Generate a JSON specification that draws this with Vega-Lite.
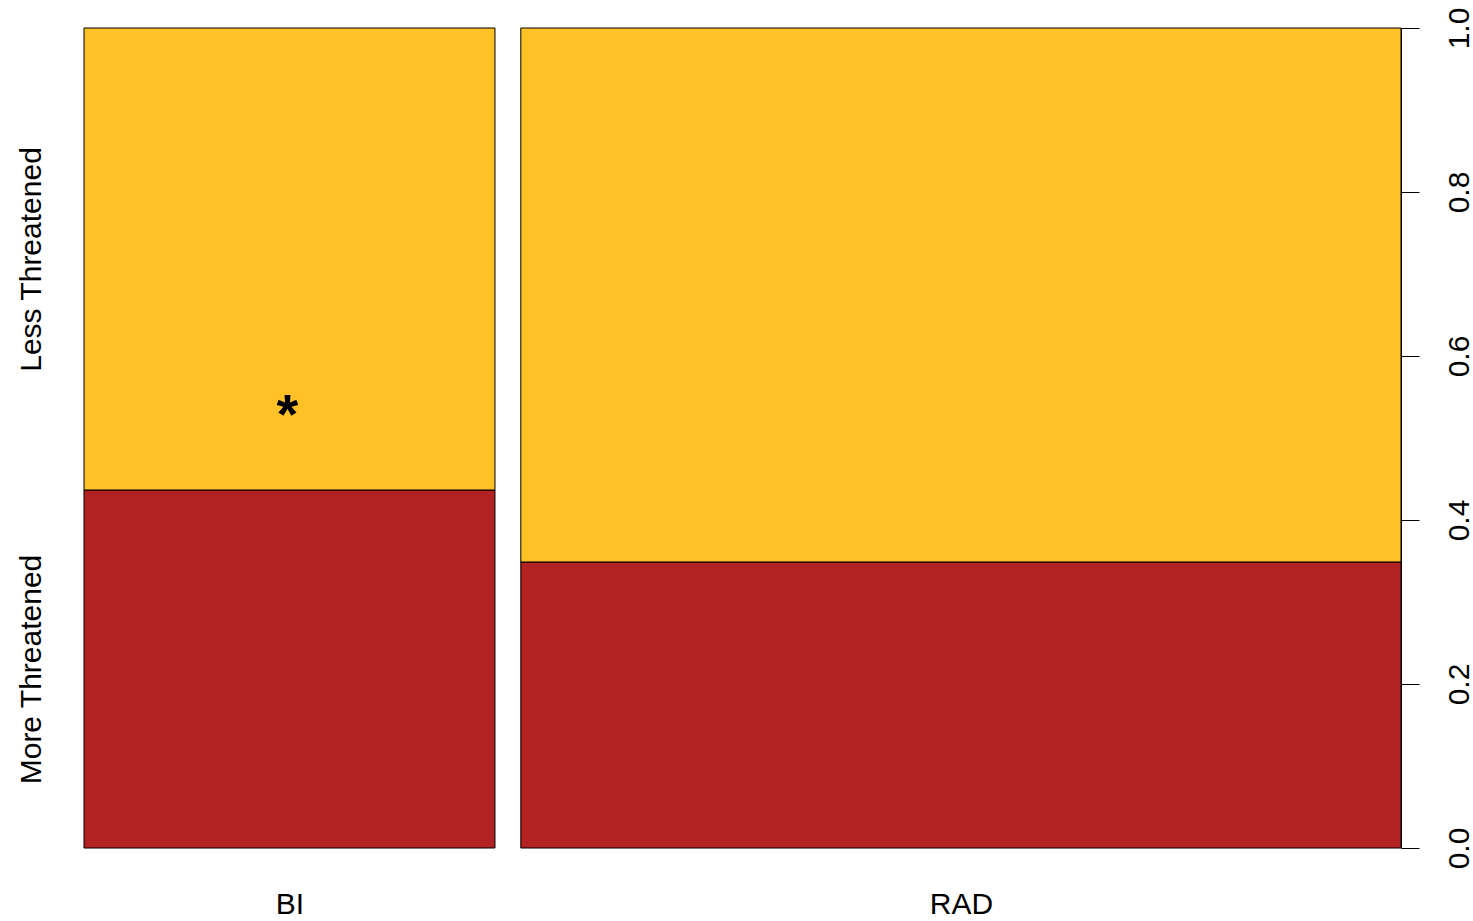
{
  "$schema": "https://vega.github.io/schema/vega-lite/v6.json",
  "width": 1317,
  "height": 820,
  "autosize": {"type": "none"},
  "padding": {"left": 84, "top": 28, "right": 72, "bottom": 73},
  "background": "white",
  "config": {
    "view": {"stroke": null},
    "font": "Liberation Sans",
    "axis": {
      "grid": false,
      "labelFont": "Liberation Sans",
      "labelFontSize": 30,
      "labelColor": "#000000",
      "tickColor": "#000000",
      "domainColor": "#000000",
      "labelOverlap": false,
      "labelFlush": false,
      "labelBound": false,
      "labelLimit": 0,
      "title": null
    }
  },
  "datasets": {
    "cells": [
      {"group": "BI", "level": "More Threatened", "x0": 0.0, "x1": 0.3183, "y0": 0.0, "y1": 0.4366},
      {"group": "BI", "level": "Less Threatened", "x0": 0.0, "x1": 0.3183, "y0": 0.4366, "y1": 1.0},
      {"group": "RAD", "level": "More Threatened", "x0": 0.3383, "x1": 1.02, "y0": 0.0, "y1": 0.3488},
      {"group": "RAD", "level": "Less Threatened", "x0": 0.3383, "x1": 1.02, "y0": 0.3488, "y1": 1.0}
    ],
    "notes": [
      {"group": "BI", "x": 0.1575, "y": 0.527, "label": "*"}
    ]
  },
  "layer": [
    {
      "data": {"name": "cells"},
      "mark": {"type": "rect", "stroke": "#000000", "strokeWidth": 1},
      "encoding": {
        "x": {
          "field": "x0",
          "type": "quantitative",
          "scale": {"domain": [0, 1.02], "nice": false, "zero": false},
          "axis": {
            "orient": "bottom",
            "values": [0.15915, 0.67915],
            "labelExpr": "datum.value < 0.4 ? 'BI' : 'RAD'",
            "domain": false,
            "ticks": false,
            "tickSize": 0,
            "labelPadding": 41,
            "labelBaseline": "top",
            "labelAlign": "center"
          }
        },
        "x2": {"field": "x1"},
        "y": {
          "field": "y0",
          "type": "quantitative",
          "scale": {"domain": [0, 1], "nice": false, "zero": false},
          "axis": {
            "orient": "right",
            "values": [0, 0.2, 0.4, 0.6, 0.8, 1.0],
            "format": ".1f",
            "domain": true,
            "domainWidth": 1,
            "ticks": true,
            "tickSize": 18,
            "tickWidth": 1,
            "labelAngle": -90,
            "labelAlign": "center",
            "labelBaseline": "top",
            "labelPadding": 25
          }
        },
        "y2": {"field": "y1"},
        "color": {
          "field": "level",
          "type": "nominal",
          "scale": {
            "domain": ["More Threatened", "Less Threatened"],
            "range": ["#B22222", "#FFC125"]
          },
          "legend": null
        }
      }
    },
    {
      "data": {"name": "notes"},
      "mark": {
        "type": "text",
        "fontSize": 56,
        "fontWeight": "bold",
        "font": "Liberation Sans",
        "color": "#000000",
        "align": "center",
        "baseline": "middle"
      },
      "encoding": {
        "x": {"field": "x", "type": "quantitative"},
        "y": {
          "field": "y",
          "type": "quantitative",
          "axis": {
            "orient": "left",
            "values": [0.2183, 0.7183],
            "labelExpr": "datum.value < 0.5 ? 'More Threatened' : 'Less Threatened'",
            "domain": false,
            "ticks": false,
            "tickSize": 0,
            "labelAngle": -90,
            "labelAlign": "center",
            "labelBaseline": "alphabetic",
            "labelPadding": 44
          }
        },
        "text": {"field": "label"}
      }
    }
  ],
  "resolve": {"axis": {"y": "independent", "x": "shared"}}
}
